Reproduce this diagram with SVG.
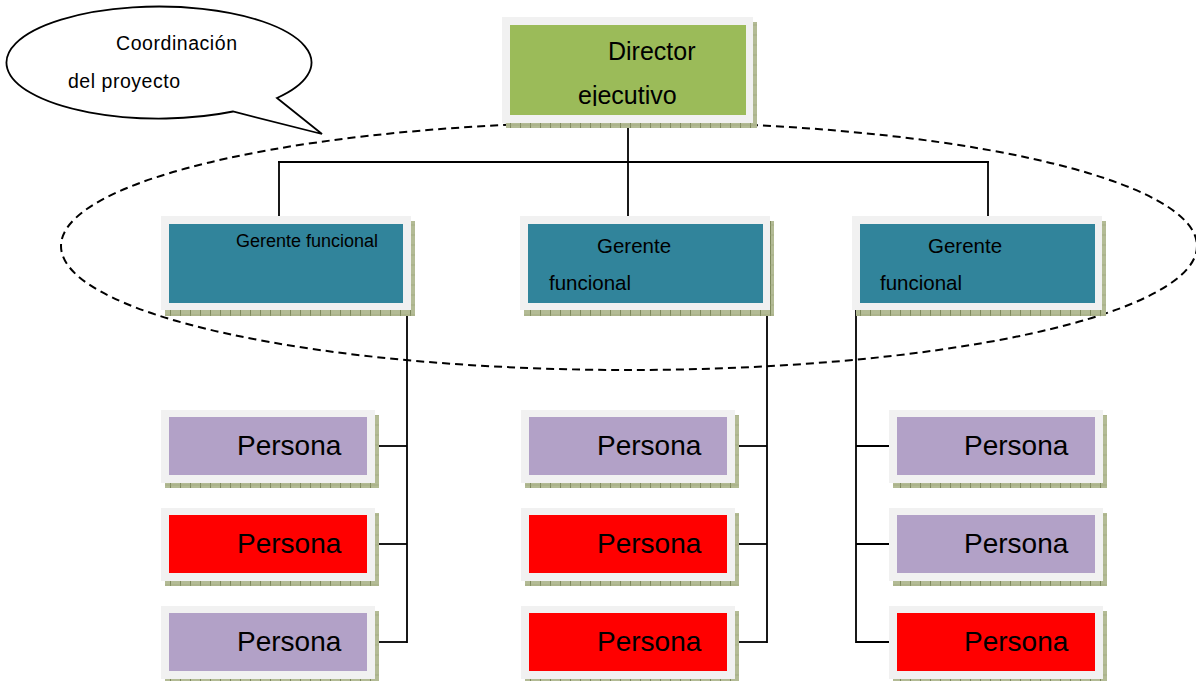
<svg xmlns="http://www.w3.org/2000/svg" width="1196" height="681" viewBox="0 0 1196 681">
<defs>
<pattern id="hatch" width="10" height="10" patternUnits="userSpaceOnUse">
<rect width="10" height="10" fill="#B3BB95"/>
<line x1="0.5" y1="0" x2="0.5" y2="10" stroke="#7E895C" stroke-width="1"/>
<line x1="0" y1="5" x2="10" y2="5" stroke="#98A276" stroke-width="0.6"/>
</pattern>
<clipPath id="dirclip"><rect x="510" y="25" width="236" height="81"/></clipPath>
<style>
.sh{fill:url(#hatch)}
.fr{fill:#F1F1F1}
.dir{fill:#9BBB59}
.ger{fill:#31849B}
.lav{fill:#B2A1C7}
.red{fill:#FF0000}
.t{font-family:"Liberation Sans",Arial,sans-serif;fill:#000}
.conn line{stroke:#000;stroke-width:1.8}
</style>
</defs>
<rect width="1196" height="681" fill="#fff"/>
<ellipse id="scope" cx="629" cy="246" rx="568" ry="124" fill="none" stroke="#000" stroke-width="2" stroke-dasharray="8,5"/>
<g id="bubble">
<path d="M277,98 L322,134 L233,111.5 A152.5 56 0 1 1 277,98 Z" fill="#fff" stroke="#000" stroke-width="1.8" stroke-linejoin="miter"/>
<text class="t" x="116" y="50" font-size="19.5" textLength="121" lengthAdjust="spacing">Coordinación</text>
<text class="t" x="68" y="88" font-size="19.5" textLength="112" lengthAdjust="spacing">del proyecto</text>
</g>
<g class="conn" id="connectors">
<line x1="628" y1="123" x2="628" y2="217"/>
<line x1="278" y1="162" x2="989" y2="162"/>
<line x1="279" y1="162" x2="279" y2="217"/>
<line x1="988" y1="162" x2="988" y2="217"/>
<line x1="407" y1="310" x2="407" y2="643"/>
<line x1="375" y1="446" x2="407" y2="446"/>
<line x1="375" y1="544" x2="407" y2="544"/>
<line x1="375" y1="642" x2="407" y2="642"/>
<line x1="767" y1="310" x2="767" y2="643"/>
<line x1="735" y1="446" x2="767" y2="446"/>
<line x1="735" y1="544" x2="767" y2="544"/>
<line x1="735" y1="642" x2="767" y2="642"/>
<line x1="856" y1="310" x2="856" y2="643"/>
<line x1="856" y1="446" x2="889" y2="446"/>
<line x1="856" y1="544" x2="889" y2="544"/>
<line x1="856" y1="642" x2="889" y2="642"/>
</g>
<g id="director">
<rect class="sh" x="506" y="22" width="251" height="106"/>
<rect class="fr" x="502" y="17" width="251" height="106"/>
<rect class="dir" x="510" y="25" width="236" height="90"/>
<g clip-path="url(#dirclip)">
<text class="t" x="608" y="60" font-size="25">Director</text>
<text class="t" x="578" y="104" font-size="25">ejecutivo</text>
</g>
</g>
<g id="gerente1">
<rect class="sh" x="165" y="221" width="250" height="95"/>
<rect class="fr" x="161" y="216" width="250" height="94"/>
<rect class="ger" x="169" y="224" width="234" height="79"/>
<text class="t" x="236" y="247" font-size="18">Gerente funcional</text>
</g>
<g id="gerente2">
<rect class="sh" x="524" y="221" width="250" height="95"/>
<rect class="fr" x="520" y="216" width="250" height="94"/>
<rect class="ger" x="528" y="224" width="235" height="79"/>
<text class="t" x="597" y="253" font-size="20.5">Gerente</text>
<text class="t" x="549" y="290" font-size="20.5">funcional</text>
</g>
<g id="gerente3">
<rect class="sh" x="856" y="221" width="250" height="95"/>
<rect class="fr" x="852" y="216" width="250" height="94"/>
<rect class="ger" x="860" y="224" width="235" height="79"/>
<text class="t" x="928" y="253" font-size="20.5">Gerente</text>
<text class="t" x="880" y="290" font-size="20.5">funcional</text>
</g>
<g id="persona1a">
<rect class="sh" x="165" y="415" width="214" height="73"/>
<rect class="fr" x="161" y="410" width="214" height="73"/>
<rect class="lav" x="169" y="417" width="198" height="58"/>
<text class="t" x="237" y="455" font-size="28">Persona</text>
</g>
<g id="persona1b">
<rect class="sh" x="165" y="513" width="214" height="73"/>
<rect class="fr" x="161" y="508" width="214" height="73"/>
<rect class="red" x="169" y="515" width="198" height="58"/>
<text class="t" x="237" y="553" font-size="28">Persona</text>
</g>
<g id="persona1c">
<rect class="sh" x="165" y="611" width="214" height="73"/>
<rect class="fr" x="161" y="606" width="214" height="73"/>
<rect class="lav" x="169" y="613" width="198" height="58"/>
<text class="t" x="237" y="651" font-size="28">Persona</text>
</g>
<g id="persona2a">
<rect class="sh" x="525" y="415" width="214" height="73"/>
<rect class="fr" x="521" y="410" width="214" height="73"/>
<rect class="lav" x="529" y="417" width="198" height="58"/>
<text class="t" x="597" y="455" font-size="28">Persona</text>
</g>
<g id="persona2b">
<rect class="sh" x="525" y="513" width="214" height="73"/>
<rect class="fr" x="521" y="508" width="214" height="73"/>
<rect class="red" x="529" y="515" width="198" height="58"/>
<text class="t" x="597" y="553" font-size="28">Persona</text>
</g>
<g id="persona2c">
<rect class="sh" x="525" y="611" width="214" height="73"/>
<rect class="fr" x="521" y="606" width="214" height="73"/>
<rect class="red" x="529" y="613" width="198" height="58"/>
<text class="t" x="597" y="651" font-size="28">Persona</text>
</g>
<g id="persona3a">
<rect class="sh" x="893" y="415" width="214" height="73"/>
<rect class="fr" x="889" y="410" width="214" height="73"/>
<rect class="lav" x="897" y="417" width="198" height="58"/>
<text class="t" x="964" y="455" font-size="28">Persona</text>
</g>
<g id="persona3b">
<rect class="sh" x="893" y="513" width="214" height="73"/>
<rect class="fr" x="889" y="508" width="214" height="73"/>
<rect class="lav" x="897" y="515" width="198" height="58"/>
<text class="t" x="964" y="553" font-size="28">Persona</text>
</g>
<g id="persona3c">
<rect class="sh" x="893" y="611" width="214" height="73"/>
<rect class="fr" x="889" y="606" width="214" height="73"/>
<rect class="red" x="897" y="613" width="198" height="58"/>
<text class="t" x="964" y="651" font-size="28">Persona</text>
</g>
</svg>
